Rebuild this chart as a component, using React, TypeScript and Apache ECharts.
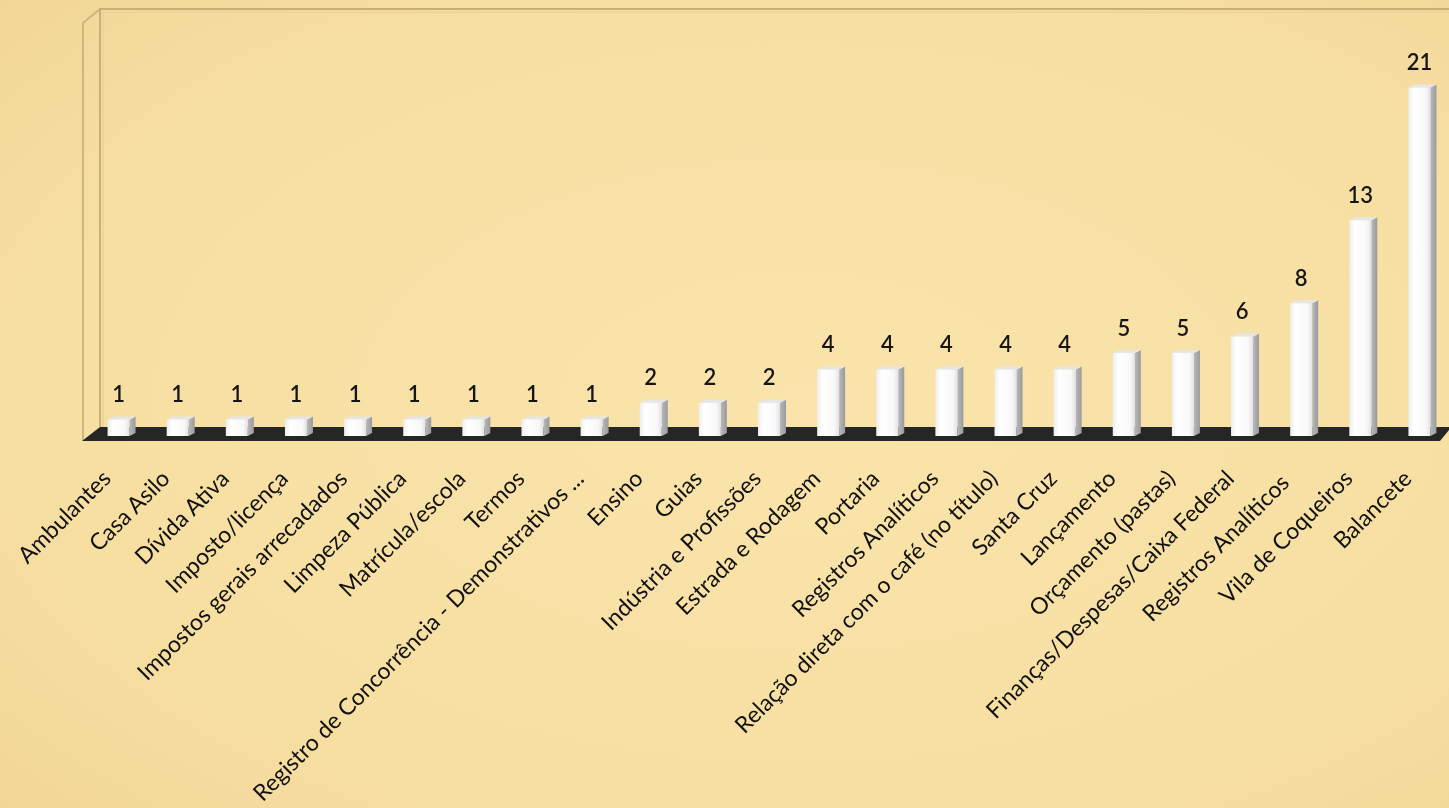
import React, { useEffect, useRef } from "react";
import * as echarts from "echarts";

const categories = [
  "Ambulantes",
  "Casa Asilo",
  "Dívida Ativa",
  "Imposto/licença",
  "Impostos gerais arrecadados",
  "Limpeza Pública",
  "Matrícula/escola",
  "Termos",
  "Registro de Concorrência - Demonstrativos ...",
  "Ensino",
  "Guias",
  "Indústria e Profissões",
  "Estrada e Rodagem",
  "Portaria",
  "Registros Analíticos",
  "Relação direta com o café (no título)",
  "Santa Cruz",
  "Lançamento",
  "Orçamento (pastas)",
  "Finanças/Despesas/Caixa Federal",
  "Registros Analíticos ",
  "Vila de Coqueiros",
  "Balancete",
];
const values = [1, 1, 1, 1, 1, 1, 1, 1, 1, 2, 2, 2, 4, 4, 4, 4, 4, 5, 5, 6, 8, 13, 21];

const W = 1449;
const H = 808;
const GRID_LEFT = 89;
const GRID_TOP = 21;
const GRID_BOTTOM = 372;
const Y_MAX = 25;
const BAR_W = 22;
const FONT = "Lato, 'Open Sans', sans-serif";

export default function App() {
  const ref = useRef<HTMLDivElement>(null);
  useEffect(() => {
    if (!ref.current) return;
    const chart = echarts.init(ref.current, undefined, { renderer: "svg" });
    const baseY = H - GRID_BOTTOM;
    const option: any = {
      animation: false,
      backgroundColor: {
        type: "radial",
        x: 0.55,
        y: 0.5,
        r: 0.85,
        colorStops: [
          { offset: 0, color: "#fae4ab" },
          { offset: 0.6, color: "#f7dfa2" },
          { offset: 1, color: "#efd292" },
        ],
      },
      graphic: [
        {
          type: "polyline",
          silent: true,
          z: -10,
          shape: { points: [[100, 9], [83, 23], [83, baseY + 5]] },
          style: { stroke: "#cfb680", lineWidth: 2, fill: "none" },
        },
        {
          type: "polyline",
          silent: true,
          z: -10,
          shape: { points: [[100, baseY - 9], [100, 9], [W, 9]] },
          style: { stroke: "#c9ae76", lineWidth: 2, fill: "none" },
        },
        {
          type: "polyline",
          silent: true,
          z: -10,
          shape: { points: [[103, baseY - 9], [103, 12], [W, 12]] },
          style: { stroke: "#e8d29c", lineWidth: 1.5, fill: "none" },
        },
        {
          type: "polygon",
          silent: true,
          z: -5,
          shape: {
            points: [
              [100, baseY - 9],
              [W, baseY - 9],
              [W, baseY - 6],
              [1440, baseY + 5],
              [82, baseY + 5],
            ],
          },
          style: { fill: "#262626" },
        },
      ],
      grid: {
        left: GRID_LEFT,
        right: 0,
        top: GRID_TOP,
        bottom: GRID_BOTTOM,
        containLabel: false,
        outerBoundsMode: "none",
      },
      xAxis: {
        type: "category",
        data: categories,
        axisLine: { show: false },
        axisTick: { show: false },
        splitLine: { show: false },
        axisLabel: {
          interval: 0,
          rotate: 45,
          margin: 25,
          padding: [0, 18, 0, 0],
          fontSize: 23,
          fontFamily: FONT,
          color: "#111111",
        },
      },
      yAxis: {
        type: "value",
        min: 0,
        max: Y_MAX,
        show: false,
        splitLine: { show: false },
      },
      series: [
        {
          type: "bar",
          data: values,
          barWidth: BAR_W,
          z: 3,
          itemStyle: {
            color: new echarts.graphic.LinearGradient(0, 0, 1, 0, [
              { offset: 0, color: "#eeeeef" },
              { offset: 0.25, color: "#ffffff" },
              { offset: 0.8, color: "#f8f8fa" },
              { offset: 1, color: "#e2e2e4" },
            ]),
          },
          label: {
            show: true,
            position: "top",
            distance: 15,
            fontSize: 22,
            fontWeight: 600,
            fontFamily: FONT,
            color: "#151515",
          },
        },
        {
          type: "custom",
          z: 2,
          data: values.map((v, i) => [i, v]),
          renderItem: (params: any, api: any) => {
            const idx = api.value(0);
            const v = api.value(1);
            const top = api.coord([idx, v]);
            const base = api.coord([idx, 0]);
            const x0 = top[0] - BAR_W / 2;
            const x1 = top[0] + BAR_W / 2;
            const d = 6;
            const r = 3;
            return {
              type: "group",
              children: [
                {
                  type: "polygon",
                  shape: {
                    points: [
                      [x1, top[1]],
                      [x1 + d, top[1] - r],
                      [x1 + d, base[1] - r],
                      [x1, base[1]],
                    ],
                  },
                  style: {
                    fill: new echarts.graphic.LinearGradient(0, 0, 1, 0, [
                      { offset: 0, color: "#b9b9bb" },
                      { offset: 1, color: "#9a9a9c" },
                    ]),
                  },
                },
                {
                  type: "polygon",
                  shape: {
                    points: [
                      [x0, top[1]],
                      [x0 + d, top[1] - r],
                      [x1 + d, top[1] - r],
                      [x1, top[1]],
                    ],
                  },
                  style: { fill: "#e6e6e8" },
                },
              ],
            };
          },
        },
      ],
    };
    chart.setOption(option);
    return () => chart.dispose();
  }, []);
  return (
    <div
      ref={ref}
      style={{ position: "fixed", left: 0, top: 0, width: W, height: H }}
    />
  );
}
